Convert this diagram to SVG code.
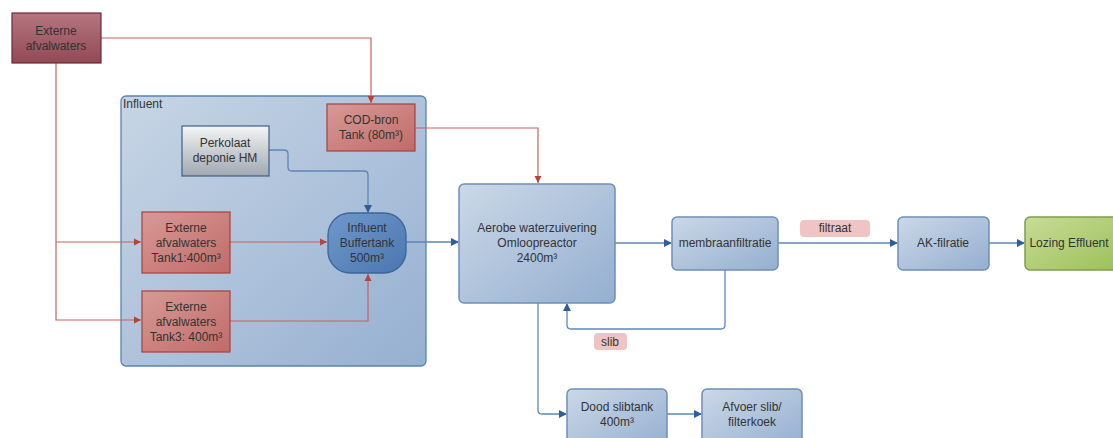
<svg xmlns="http://www.w3.org/2000/svg" width="1113" height="438" viewBox="0 0 1113 438">
<defs>
<linearGradient id="gBlue" x1="0" y1="0" x2="1" y2="1"><stop offset="0" stop-color="#cbd8e7"/><stop offset="1" stop-color="#94afd0"/></linearGradient>
<linearGradient id="gCont" x1="0" y1="0" x2="1" y2="1"><stop offset="0" stop-color="#c7d5e5"/><stop offset="1" stop-color="#96b0d1"/></linearGradient>
<linearGradient id="gRed" x1="0" y1="0" x2="1" y2="1"><stop offset="0" stop-color="#d79a97"/><stop offset="1" stop-color="#c06b68"/></linearGradient>
<linearGradient id="gMaroon" x1="0" y1="0" x2="0" y2="1"><stop offset="0" stop-color="#b47680"/><stop offset="1" stop-color="#924955"/></linearGradient>
<linearGradient id="gGray" x1="0" y1="0" x2="0" y2="1"><stop offset="0" stop-color="#f4f4f4"/><stop offset="1" stop-color="#a0a8b2"/></linearGradient>
<linearGradient id="gDark" x1="0" y1="0" x2="1" y2="1"><stop offset="0" stop-color="#7098cc"/><stop offset="1" stop-color="#4a76b0"/></linearGradient>
<linearGradient id="gGreen" x1="0" y1="0" x2="1" y2="1"><stop offset="0" stop-color="#c8dc96"/><stop offset="1" stop-color="#9cc059"/></linearGradient>
<marker id="aB" markerWidth="8" markerHeight="8" refX="7" refY="4" orient="auto" markerUnits="userSpaceOnUse"><path d="M0,0 L8,4 L0,8 Z" fill="#2f5d9a"/></marker>
<marker id="aR" markerWidth="8" markerHeight="8" refX="7" refY="4" orient="auto" markerUnits="userSpaceOnUse"><path d="M0,0.5 L7,4 L0,7.5 Z" fill="#b7433f"/></marker>
</defs>
<style>
text{font-family:"Liberation Sans",Arial,sans-serif;font-size:12px;fill:#333;text-anchor:middle}
.blue{fill:url(#gBlue);stroke:#6f8fb8;stroke-width:1.5}
.red{fill:url(#gRed);stroke:#a8403d;stroke-width:1.2}
.lb{fill:none;stroke:#5d86b8;stroke-width:1.3}
.lr{fill:none;stroke:#c9605d;stroke-width:1.2}
.tag{fill:#f0c4c3;stroke:none}
</style>
<g id="influent-group">
<rect x="121" y="96" width="305" height="270" rx="5" fill="url(#gCont)" stroke="#5a82b3" stroke-width="1.3"/>
<text x="123" y="108" style="text-anchor:start">Influent</text>
</g>
<g id="connectors">
<path class="lr" d="M101,38 H371 V103" marker-end="url(#aR)"/>
<path class="lr" d="M56,63 V320 H141" marker-end="url(#aR)"/>
<path class="lr" d="M56,242 H141" marker-end="url(#aR)"/>
<path class="lr" d="M230,242 H327" marker-end="url(#aR)"/>
<path class="lr" d="M230,321 H368 V274" marker-end="url(#aR)"/>
<path class="lr" d="M415,128 H538 V183" marker-end="url(#aR)"/>
<path class="lb" d="M269,150 H284 Q288,150 288,154 V167 Q288,171 292,171 H364 Q368,171 368,175 V212" marker-end="url(#aB)"/>
<path class="lb" d="M406,242 H458" marker-end="url(#aB)"/>
<path class="lb" d="M615,243 H671" marker-end="url(#aB)"/>
<path class="lb" d="M725,270 V325 Q725,329 721,329 H571 Q567,329 567,325 V304" marker-end="url(#aB)"/>
<path class="lb" d="M538,303 V410 Q538,414 542,414 H566" marker-end="url(#aB)"/>
<path class="lb" d="M778,243 H897" marker-end="url(#aB)"/>
<path class="lb" d="M989,243 H1024" marker-end="url(#aB)"/>
<path class="lb" d="M667,414 H701" marker-end="url(#aB)"/>
</g>
<g id="externe-top">
<rect x="12" y="13" width="89" height="50" fill="url(#gMaroon)" stroke="#6e2a35" stroke-width="1.2"/>
<text x="56" y="35">Externe</text><text x="56" y="50">afvalwaters</text>
</g>
<g id="cod-bron">
<rect class="red" x="327" y="104" width="88" height="47"/>
<text x="371" y="124">COD-bron</text><text x="371" y="139">Tank (80m³)</text>
</g>
<g id="perkolaat">
<rect x="182" y="126" width="87" height="50" fill="url(#gGray)" stroke="#3e5f86" stroke-width="1.2"/>
<text x="225" y="147">Perkolaat</text><text x="225" y="162">deponie HM</text>
</g>
<g id="tank1">
<rect class="red" x="142" y="212" width="88" height="61"/>
<text x="186" y="232">Externe</text><text x="186" y="247">afvalwaters</text><text x="186" y="262">Tank1:400m³</text>
</g>
<g id="tank3">
<rect class="red" x="142" y="291" width="88" height="61"/>
<text x="186" y="311">Externe</text><text x="186" y="326">afvalwaters</text><text x="186" y="341">Tank3: 400m³</text>
</g>
<g id="buffertank">
<rect x="328" y="213" width="78" height="60" rx="22" fill="url(#gDark)" stroke="#3d6699" stroke-width="1.3"/>
<text x="367" y="232">Influent</text><text x="367" y="247">Buffertank</text><text x="367" y="262">500m³</text>
</g>
<g id="aerobe">
<rect class="blue" x="459" y="184" width="156" height="119" rx="5"/>
<text x="537" y="232">Aerobe waterzuivering</text><text x="537" y="247">Omloopreactor</text><text x="537" y="262">2400m³</text>
</g>
<g id="membraan">
<rect class="blue" x="672" y="217" width="106" height="53" rx="5"/>
<text x="725" y="247">membraanfiltratie</text>
</g>
<g id="ak">
<rect class="blue" x="898" y="217" width="91" height="53" rx="5"/>
<text x="943" y="247">AK-filratie</text>
</g>
<g id="lozing">
<rect x="1025" y="217" width="95" height="53" rx="5" fill="url(#gGreen)" stroke="#7f9e4a" stroke-width="1.5"/>
<text x="1069" y="247">Lozing Effluent</text>
</g>
<g id="dood">
<rect class="blue" x="567" y="389" width="100" height="60" rx="5"/>
<text x="617" y="411">Dood slibtank</text><text x="617" y="426">400m³</text>
</g>
<g id="afvoer">
<rect class="blue" x="702" y="389" width="100" height="60" rx="5"/>
<text x="752" y="411">Afvoer slib/</text><text x="752" y="426">filterkoek</text>
</g>
<g id="label-filtraat">
<rect class="tag" x="800" y="220" width="70" height="17" rx="4"/>
<text x="835" y="232">filtraat</text>
</g>
<g id="label-slib">
<rect class="tag" x="594" y="333" width="33" height="17" rx="4"/>
<text x="610" y="346">slib</text>
</g>
</svg>
